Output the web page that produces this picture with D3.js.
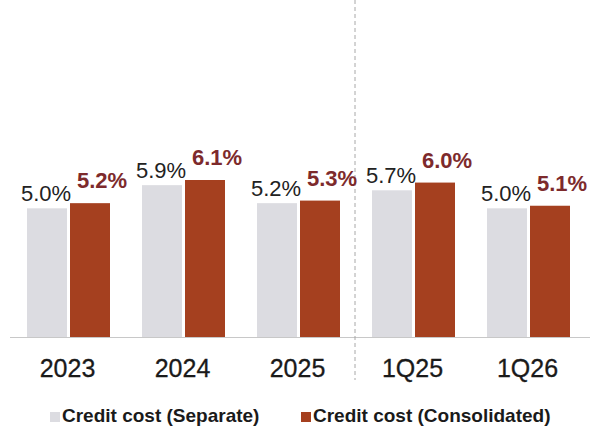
<!DOCTYPE html>
<html>
<head>
<meta charset="utf-8">
<script src="https://cdn.jsdelivr.net/npm/d3@7"></script>
<style>
  body { margin: 0; background: #fff; }
  svg { display: block; font-family: "Liberation Sans", Arial, sans-serif; }
</style>
</head>
<body>
<div class="chart"></div>
<script>
// chart values
const categories = ["2023", "2024", "2025", "1Q25", "1Q26"]
const separate = [5.0, 5.9, 5.2, 5.7, 5.0]
const consolidated = [5.2, 6.1, 5.3, 6.0, 5.1]
const seriesNames = ["Credit cost (Separate)", "Credit cost (Consolidated)"]

const width = 592
const height = 427
const baseline = 337

const svg = d3.select(".chart").append("svg")
  .attr("width", width)
  .attr("height", height)

const x = d3.scaleBand()
  .domain(categories)
  .range([10, 585])

const y = d3.scaleLinear()
  .domain([0, 6.1])
  .range([baseline, 180])

const barW = 40
const gap = 3

// baseline
svg.append("line")
  .attr("x1", 10).attr("x2", 590)
  .attr("y1", baseline + 0.5).attr("y2", baseline + 0.5)
  .attr("stroke", "#c8c8c8")
  .attr("stroke-width", 1.2)

// divider between annual and quarterly
const divX = (x("2025") + x.bandwidth() + x("1Q25")) / 2
svg.append("line")
  .attr("x1", divX).attr("x2", divX)
  .attr("y1", 0).attr("y2", 380)
  .attr("stroke", "#a8a8a8")
  .attr("stroke-dasharray", "4,3")

const groups = svg.append("g")
  .selectAll("g")
  .data(categories)
  .enter().append("g")

groups.append("rect")
  .attr("x", d => x(d) + x.bandwidth() / 2 - barW - gap / 2 + 1)
  .attr("y", (d, i) => y(separate[i]))
  .attr("width", barW)
  .attr("height", (d, i) => baseline - y(separate[i]))
  .attr("fill", "#dcdce1")

groups.append("rect")
  .attr("x", d => x(d) + x.bandwidth() / 2 + gap / 2 + 1)
  .attr("y", (d, i) => y(consolidated[i]))
  .attr("width", barW)
  .attr("height", (d, i) => baseline - y(consolidated[i]))
  .attr("fill", "#a5401f")

groups.append("text")
  .attr("x", d => x(d) + x.bandwidth() / 2 - barW / 2 - gap / 2)
  .attr("y", (d, i) => y(separate[i]) - 7)
  .attr("text-anchor", "middle")
  .attr("font-size", 22)
  .attr("fill", "#222")
  .text((d, i) => separate[i].toFixed(1) + "%")

groups.append("text")
  .attr("x", d => x(d) + x.bandwidth() / 2 + gap / 2 + barW / 2 + 13)
  .attr("y", (d, i) => y(consolidated[i]) - 15)
  .attr("text-anchor", "middle")
  .attr("font-size", 22)
  .attr("font-weight", "bold")
  .attr("fill", "#7d2a2c")
  .text((d, i) => consolidated[i].toFixed(1) + "%")

// category labels
groups.append("text")
  .attr("x", d => x(d) + x.bandwidth() / 2)
  .attr("y", 377)
  .attr("text-anchor", "middle")
  .attr("font-size", 25)
  .attr("fill", "#1a1a1a")
  .attr("stroke", "#1a1a1a")
  .attr("stroke-width", 0.3)
  .text(d => d)

// legend
const legendColors = ["#dcdce1", "#a5401f"]
const legendX = [50, 301]
const legend = svg.append("g")
  .selectAll("g")
  .data(seriesNames)
  .enter().append("g")
  .attr("transform", (d, i) => "translate(" + legendX[i] + ",0)")

legend.append("rect")
  .attr("x", 0).attr("y", 412)
  .attr("width", 10).attr("height", 10)
  .attr("fill", (d, i) => legendColors[i])

legend.append("text")
  .attr("x", 12)
  .attr("y", 422)
  .attr("font-size", 19)
  .attr("font-weight", "bold")
  .attr("fill", "#1a1a1a")
  .text(d => d)
</script>
</body>
</html>
